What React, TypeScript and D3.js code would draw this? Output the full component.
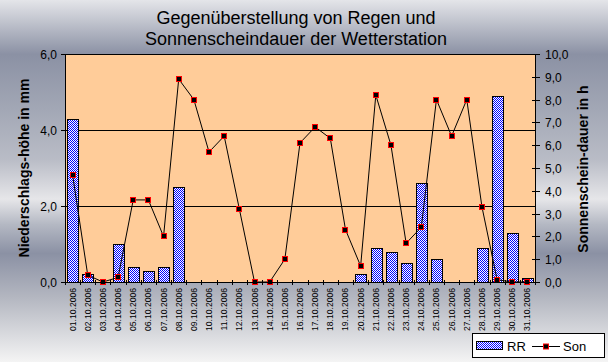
import React, { useEffect, useRef } from 'react';
import * as d3 from 'd3';

const days = [
  '01.10.2006', '02.10.2006', '03.10.2006', '04.10.2006', '05.10.2006', '06.10.2006',
  '07.10.2006', '08.10.2006', '09.10.2006', '10.10.2006', '11.10.2006', '12.10.2006',
  '13.10.2006', '14.10.2006', '15.10.2006', '16.10.2006', '17.10.2006', '18.10.2006',
  '19.10.2006', '20.10.2006', '21.10.2006', '22.10.2006', '23.10.2006', '24.10.2006',
  '25.10.2006', '26.10.2006', '27.10.2006', '28.10.2006', '29.10.2006', '30.10.2006',
  '31.10.2006',
];

// RR – Niederschlag in mm (linke Achse)
const rainMm = [
  4.3, 0.2, 0, 1.0, 0.4, 0.3, 0.4, 2.5, 0, 0, 0, 0, 0, 0, 0, 0,
  0, 0, 0, 0.2, 0.9, 0.8, 0.5, 2.6, 0.6, 0, 0, 0.9, 4.9, 1.3, 0.1,
];

// Son – Sonnenscheindauer in h (rechte Achse)
const sunHours = [
  4.7, 0.3, 0, 0.2, 3.6, 3.6, 2.0, 8.9, 8.0, 5.7, 6.4, 3.2, 0, 0, 1.0, 6.1,
  6.8, 6.3, 2.3, 0.7, 8.2, 6.0, 1.7, 2.4, 8.0, 6.4, 8.0, 3.3, 0.1, 0, 0,
];

const leftTicks = [0, 2, 4, 6];
const rightTicks = [0, 1, 2, 3, 4, 5, 6, 7, 8, 9, 10];
const titleLines = ['Gegenüberstellung von Regen und', 'Sonnenscheindauer der Wetterstation'];
const leftTitle = 'Niederschlags-höhe in mm';
const rightTitle = 'Sonnenschein-dauer in h';
const legendNames = ['RR', 'Son'];

const FONT = 'Liberation Sans, Arial, sans-serif';
const fmt = (v: number) => v.toFixed(1).replace('.', ',');

export default function App() {
  const svgRef = useRef<SVGSVGElement>(null);

  useEffect(() => {
    if (!svgRef.current) return;
    const W = 608, H = 362;
    const L = 65, R = 535, T = 54, B = 282;

    d3.select(svgRef.current).selectAll('*').remove();
    const svg = d3.select(svgRef.current);
    const defs = svg.append('defs');

    // metallic background
    const bg = defs.append('linearGradient').attr('id', 'bg-grad')
      .attr('x1', 0).attr('y1', 0).attr('x2', 0).attr('y2', 1);
    [
      [0, '#e4e5e9'], [0.15, '#8b91a4'], [0.3, '#a2a7b5'], [0.44, '#b9bcc6'],
      [0.55, '#e6e6e9'], [0.62, '#b4b8c3'], [0.7, '#8b91a4'], [0.82, '#b3b6c0'], [1, '#f4f4f4'],
    ].forEach(([o, c]) => bg.append('stop').attr('offset', o as number).attr('stop-color', c as string));

    // blue/white checker fill of the bars
    const pat = defs.append('pattern').attr('id', 'checker')
      .attr('width', 2).attr('height', 2).attr('patternUnits', 'userSpaceOnUse');
    pat.append('rect').attr('width', 2).attr('height', 2).attr('fill', '#ffffff');
    pat.append('rect').attr('width', 1).attr('height', 1).attr('fill', '#0000ff');
    pat.append('rect').attr('x', 1).attr('y', 1).attr('width', 1).attr('height', 1).attr('fill', '#0000ff');

    svg.append('rect').attr('width', W).attr('height', H).attr('fill', 'url(#bg-grad)');

    // scales
    const x = d3.scaleBand<string>().domain(days).range([L, R]).paddingInner(0.3).paddingOuter(0.15);
    const yL = d3.scaleLinear().domain([0, 6]).range([B, T]);
    const yR = d3.scaleLinear().domain([0, 10]).range([B, T]);
    const cx = (d: string) => (x(d) ?? 0) + x.bandwidth() / 2;

    // plot area
    svg.append('rect').attr('x', L).attr('y', T).attr('width', R - L).attr('height', B - T)
      .attr('fill', '#ffcc99');

    // gridlines
    svg.append('g').selectAll('line').data(leftTicks.filter(t => t > 0)).join('line')
      .attr('x1', L).attr('x2', R)
      .attr('y1', d => Math.round(yL(d)) + 0.5).attr('y2', d => Math.round(yL(d)) + 0.5)
      .attr('stroke', '#000').attr('stroke-width', 1);

    // bars
    svg.append('g').selectAll('rect').data(days).join('rect')
      .attr('x', d => Math.round(x(d) ?? 0) + 0.5)
      .attr('y', (d, i) => Math.round(yL(rainMm[i])) + 0.5)
      .attr('width', Math.round(x.bandwidth()))
      .attr('height', (d, i) => Math.max(0, B - Math.round(yL(rainMm[i]))))
      .attr('fill', 'url(#checker)')
      .attr('stroke', '#000').attr('stroke-width', 1)
      .attr('display', (d, i) => (rainMm[i] > 0 ? null : 'none'));

    // sunshine line
    const line = d3.line<number>().x((v, i) => cx(days[i])).y(v => yR(v));
    svg.append('path').datum(sunHours).attr('d', line)
      .attr('fill', 'none').attr('stroke', '#000').attr('stroke-width', 1);
    svg.append('g').selectAll('rect').data(sunHours).join('rect')
      .attr('x', (v, i) => Math.round(cx(days[i])) - 2.5)
      .attr('y', v => Math.round(yR(v)) - 2.5)
      .attr('width', 5).attr('height', 5)
      .attr('fill', '#000').attr('stroke', '#ff0000').attr('stroke-width', 1);

    // axes lines
    const axes = svg.append('g').attr('stroke', '#000').attr('stroke-width', 1);
    axes.append('line').attr('x1', L + 0.5).attr('x2', L + 0.5).attr('y1', T).attr('y2', B + 1);
    axes.append('line').attr('x1', R + 0.5).attr('x2', R + 0.5).attr('y1', T).attr('y2', B + 1);
    axes.append('line').attr('x1', L).attr('x2', R + 1).attr('y1', B + 0.5).attr('y2', B + 0.5);
    axes.append('line').attr('x1', L).attr('x2', R).attr('y1', T + 0.5).attr('y2', T + 0.5);

    // left ticks + labels
    leftTicks.forEach(t => {
      const y = Math.round(yL(t)) + 0.5;
      axes.append('line').attr('x1', L - 4).attr('x2', L).attr('y1', y).attr('y2', y);
      svg.append('text').attr('x', 57).attr('y', y).attr('dy', '0.36em')
        .attr('text-anchor', 'end').attr('font-family', FONT).attr('font-size', 12)
        .attr('fill', '#000').text(fmt(t));
    });

    // right ticks + labels
    rightTicks.forEach(t => {
      const y = Math.round(yR(t)) + 0.5;
      axes.append('line').attr('x1', R - 3).attr('x2', R + 5).attr('y1', y).attr('y2', y);
      svg.append('text').attr('x', 545).attr('y', y).attr('dy', '0.36em')
        .attr('text-anchor', 'start').attr('font-family', FONT).attr('font-size', 12)
        .attr('fill', '#000').text(fmt(t));
    });

    // category ticks
    d3.range(days.length + 1).forEach(i => {
      const xx = Math.round(L + i * x.step()) + 0.5;
      axes.append('line').attr('x1', xx).attr('x2', xx).attr('y1', B - 2).attr('y2', B + 3);
    });

    // category labels
    svg.append('g').selectAll('text').data(days).join('text')
      .attr('transform', d => `translate(${cx(d)},${B + 6}) rotate(-90)`)
      .attr('dy', '0.35em')
      .attr('text-anchor', 'end').attr('font-family', FONT).attr('font-size', 8.6)
      .attr('fill', '#000').text(d => d);

    // title
    titleLines.forEach((s, i) => {
      svg.append('text').attr('x', 296).attr('y', 24 + i * 21)
        .attr('text-anchor', 'middle').attr('font-family', FONT).attr('font-size', 18)
        .attr('fill', '#000').text(s);
    });

    // axis titles
    svg.append('text').attr('transform', 'translate(24,168) rotate(-90)').attr('dy', '0.35em')
      .attr('text-anchor', 'middle').attr('font-family', FONT).attr('font-size', 14)
      .attr('font-weight', 'bold').attr('fill', '#000').text(leftTitle);
    svg.append('text').attr('transform', 'translate(583,169) rotate(-90)').attr('dy', '0.35em')
      .attr('text-anchor', 'middle').attr('font-family', FONT).attr('font-size', 14)
      .attr('font-weight', 'bold').attr('fill', '#000').text(rightTitle);

    // legend
    const lg = svg.append('g');
    lg.append('rect').attr('x', 472.5).attr('y', 333.5).attr('width', 132).attr('height', 24)
      .attr('fill', '#fff').attr('stroke', '#000').attr('stroke-width', 1);
    lg.append('rect').attr('x', 476.5).attr('y', 341.5).attr('width', 26).attr('height', 8)
      .attr('fill', 'url(#checker)').attr('stroke', '#000').attr('stroke-width', 1);
    lg.append('text').attr('x', 507).attr('y', 346).attr('dy', '0.36em')
      .attr('font-family', FONT).attr('font-size', 13).attr('fill', '#000').text(legendNames[0]);
    lg.append('line').attr('x1', 532).attr('x2', 560).attr('y1', 346.5).attr('y2', 346.5)
      .attr('stroke', '#000').attr('stroke-width', 1);
    lg.append('rect').attr('x', 543.5).attr('y', 344).attr('width', 5).attr('height', 5)
      .attr('fill', '#000').attr('stroke', '#ff0000').attr('stroke-width', 1);
    lg.append('text').attr('x', 563).attr('y', 346).attr('dy', '0.36em')
      .attr('font-family', FONT).attr('font-size', 13).attr('fill', '#000').text(legendNames[1]);
  }, []);

  return (
    <svg
      ref={svgRef}
      width={608}
      height={362}
      style={{ position: 'absolute', left: 0, top: 0, display: 'block' }}
    />
  );
}
